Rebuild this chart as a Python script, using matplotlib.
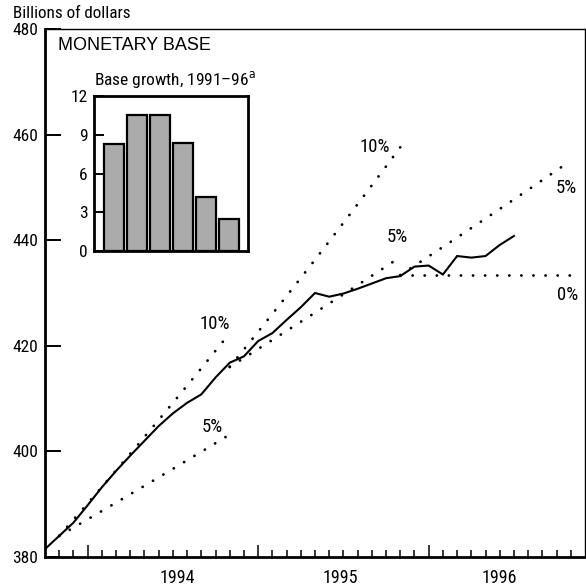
import matplotlib
matplotlib.use("Agg")
import matplotlib.pyplot as plt
import numpy as np

# ---------------- data ----------------
# month index: 0 = January 1994 (tall tick); monthly observations
months = list(range(-3, 31))
base_values = [381.5, 384.0, 386.5, 389.8, 393.2, 396.3, 399.2, 402.0, 404.8,
               407.2, 409.2, 410.8, 414.0, 416.8, 418.0, 420.9, 422.4, 424.9,
               427.3, 430.0, 429.3, 429.9, 430.8, 431.8, 432.8, 433.2, 435.0,
               435.2, 433.5, 437.0, 436.7, 437.0, 439.1, 440.8]

# growth cones: start month, base level, growth rates (% per year), 12-month paths
cone_start = [-2, 10, 22]
cone_base = [384.0, 416.0, 433.4]
cone_rates = [[10, 5], [10, 5], [5, 0]]

year_labels = ["1994", "1995", "1996"]
year_label_pos = [6.3, 17.8, 29.0]
year_bounds = [0, 12, 24]

y_ticks = [380, 400, 420, 440, 460, 480]

inset_years = ["1991", "1992", "1993", "1994", "1995", "1996"]
inset_growth = [8.3, 10.5, 10.5, 8.4, 4.2, 2.5]
inset_ticks = [0, 3, 6, 9, 12]

# ---------------- style ----------------
NARROW = ["Liberation Sans Narrow", "Roboto Condensed", "DejaVu Sans"]
REG = ["Liberation Sans", "DejaVu Sans"]
plt.rcParams["font.family"] = NARROW
plt.rcParams["font.stretch"] = "condensed"
plt.rcParams["mathtext.fontset"] = "custom"
plt.rcParams["mathtext.rm"] = "DejaVu Sans:stretch=condensed"

fig = plt.figure(figsize=(5.86, 5.87), dpi=100)
ax = fig.add_axes([45 / 586, 1 - 557 / 587, 540 / 586, 528 / 587])

ax.set_xlim(-3, 35)
ax.set_ylim(380, 480)

# main line
ax.plot(months, base_values, color="black", lw=1.5, solid_joinstyle="miter",
        zorder=4)

# cones
for s, b, rates in zip(cone_start, cone_base, cone_rates):
    for r in rates:
        xs = np.linspace(s, s + 12, 50)
        ys = b * (1 + r / 100.0) ** ((xs - s) / 12.0)
        ax.plot(xs, ys, color="black", lw=2.0, linestyle=(0, (0.05, 4.3)),
                dash_capstyle="round", zorder=3)

lab_kw = dict(fontsize=13.5, ha="center", va="center", family=NARROW,
              fontstretch="condensed")
ax.text(8.96, 424.2, "10%", **lab_kw)
ax.text(8.75, 404.6, "5%", **lab_kw)
ax.text(20.2, 457.7, "10%", **lab_kw)
ax.text(21.8, 440.6, "5%", **lab_kw)
ax.text(33.66, 449.9, "5%", **lab_kw)
ax.text(33.8, 429.6, "0%", **lab_kw)

# spines
for sp in ["left", "bottom"]:
    ax.spines[sp].set_linewidth(2.0)
for sp in ["top", "right"]:
    ax.spines[sp].set_linewidth(1.0)

# ticks
ax.set_yticks(y_ticks)
ax.set_yticklabels([str(v) for v in y_ticks], fontstretch="condensed")
ax.tick_params(axis="y", direction="in", length=11.5, width=1.4, pad=5,
               labelsize=12.5, right=False)
ax.set_xticks(year_bounds)
ax.set_xticklabels([])
ax.set_xticks(list(range(-2, 35)), minor=True)
ax.tick_params(axis="x", which="major", direction="in", length=9, width=1.1,
               top=False)
ax.tick_params(axis="x", which="minor", direction="in", length=5, width=1.1,
               top=False)
for lbl, p in zip(year_labels, year_label_pos):
    ax.text(p, -0.022, lbl, transform=ax.get_xaxis_transform(), ha="center",
            va="top", fontsize=13, family=NARROW, fontstretch="condensed")

ax.text(13 / 540, 1 - 8 / 528, "MONETARY BASE", transform=ax.transAxes,
        ha="left", va="top", fontsize=13, family=REG, fontstretch="normal")

fig.text(13 / 586, 1 - 6 / 587, "Billions of dollars", ha="left", va="top",
         fontsize=12.3, family=NARROW, fontstretch="condensed")

# ---------------- inset ----------------
axi = fig.add_axes([94 / 586, 1 - 251 / 587, 154 / 586, 155 / 587])
xpos = np.arange(len(inset_years))
axi.bar(xpos, inset_growth, width=0.88, color="#ababab", edgecolor="black",
        linewidth=1.6, zorder=2)
axi.set_xlim(-0.886, 5.84)
axi.set_ylim(0, 12)
axi.set_xticks([])
axi.set_yticks(inset_ticks)
axi.set_yticklabels([str(v) for v in inset_ticks], fontstretch="condensed")
axi.tick_params(axis="y", direction="in", length=7, width=1.4, pad=4.5,
                labelsize=12.5)
for sp in axi.spines.values():
    sp.set_linewidth(2.0)
axi.text(0.0, 1.04, "Base growth, 1991\u201396$^{\\mathrm{a}}$",
         transform=axi.transAxes, ha="left", va="bottom", fontsize=12.5,
         family=NARROW, fontstretch="condensed")

fig.savefig("out.png", dpi=100)
